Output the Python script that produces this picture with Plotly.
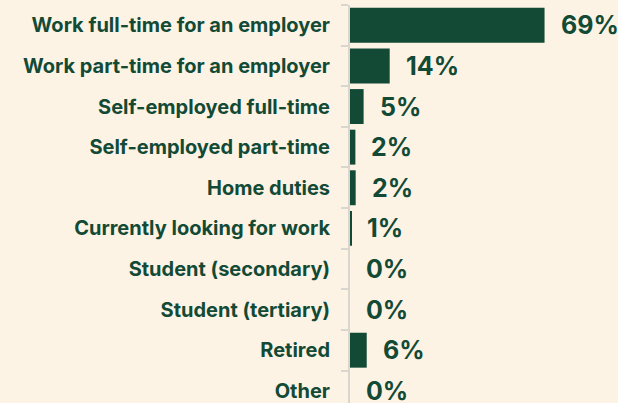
import plotly.graph_objects as go

categories = [
    "Work full-time for an employer",
    "Work part-time for an employer",
    "Self-employed full-time",
    "Self-employed part-time",
    "Home duties",
    "Currently looking for work",
    "Student (secondary)",
    "Student (tertiary)",
    "Retired",
    "Other",
]
values = [68.6, 14, 4.8, 1.9, 2.0, 0.5, 0, 0, 5.9, 0]
value_labels = ["69%", "14%", "5%", "2%", "2%", "1%", "0%", "0%", "6%", "0%"]

BG = "#fdf3e5"
GREEN = "#124a36"
FONT = "Inter"

fig = go.Figure(
    go.Bar(
        x=values,
        y=categories,
        orientation="h",
        marker=dict(color=GREEN, line=dict(width=0)),
        hoverinfo="skip",
    )
)

for c, v, t in zip(categories, values, value_labels):
    fig.add_annotation(
        x=v, y=c, text=t, showarrow=False, xanchor="left", yanchor="middle",
        xshift=14, yshift=0,
        font=dict(family=FONT, size=25, color=GREEN, weight="bold"),
    )

fig.update_layout(
    width=618, height=403,
    margin=dict(l=350, r=0, t=5, b=0),
    paper_bgcolor=BG, plot_bgcolor=BG,
    bargap=0.14,
    showlegend=False,
    xaxis=dict(range=[0, 94.5], visible=False, fixedrange=True),
    yaxis=dict(
        type="category",
        range=[9.3, -0.5],
        showline=True, linecolor="#d9d6d0", linewidth=2,
        ticks="outside", tickson="boundaries", ticklen=7, tickwidth=2,
        tickcolor="#d9d6d0",
        showgrid=False,
        ticklabelstandoff=14,
        tickfont=dict(family=FONT, size=20, color=GREEN, weight="bold"),
        fixedrange=True,
    ),
)

fig.write_html(
    "out.html",
    config={"displayModeBar": False},
    post_script="document.body.style.margin='0';document.body.style.background='#fdf3e5';",
)
